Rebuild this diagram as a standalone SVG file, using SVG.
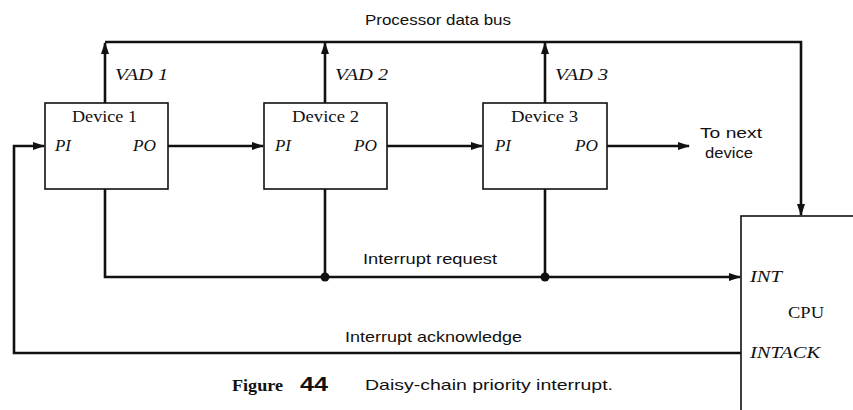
<svg xmlns="http://www.w3.org/2000/svg" width="853" height="410" viewBox="0 0 853 410">
  <style>
    .box { fill: #fff; stroke: #111; stroke-width: 1.6; }
    .wire { fill: none; stroke: #111; stroke-width: 2.6; }
    .sans { font-family: "Liberation Sans", Arial, sans-serif; font-size: 15px; fill: #111; }
    .serif { font-family: "Liberation Serif", "Times New Roman", serif; font-size: 16px; fill: #111; }
    .ital { font-family: "Liberation Serif", "Times New Roman", serif; font-size: 16px; font-style: italic; fill: #111; }
  </style>
  <defs>
    <marker id="arr" markerUnits="userSpaceOnUse" markerWidth="12" markerHeight="10" refX="11" refY="4" orient="auto">
      <path d="M0,0 L12,4 L0,8 z" fill="#111"/>
    </marker>
  </defs>
  <rect width="853" height="410" fill="#fff"/>

  <g id="connectors">
    <!-- processor data bus -->
    <path class="wire" d="M105,42 H801 V215" marker-end="url(#arr)"/>
    <line class="wire" x1="105" y1="103" x2="105" y2="43" marker-end="url(#arr)"/>
    <line class="wire" x1="325" y1="103" x2="325" y2="43" marker-end="url(#arr)"/>
    <line class="wire" x1="545" y1="103" x2="545" y2="43" marker-end="url(#arr)"/>
    <!-- priority chain -->
    <line class="wire" x1="168" y1="146" x2="263" y2="146" marker-end="url(#arr)"/>
    <line class="wire" x1="387" y1="146" x2="482" y2="146" marker-end="url(#arr)"/>
    <line class="wire" x1="607" y1="146" x2="689" y2="146" marker-end="url(#arr)"/>
    <!-- interrupt request -->
    <path class="wire" d="M105,189 V277 H740" marker-end="url(#arr)"/>
    <line class="wire" x1="325" y1="189" x2="325" y2="277"/>
    <line class="wire" x1="545" y1="189" x2="545" y2="277"/>
    <circle cx="325" cy="277" r="4.5" fill="#111"/>
    <circle cx="545" cy="277" r="4.5" fill="#111"/>
    <!-- interrupt acknowledge -->
    <path class="wire" d="M741,353 H14 V146 H44" marker-end="url(#arr)"/>
  </g>

  <g id="device1">
    <rect class="box" x="45" y="103" width="123" height="86"/>
    <text class="serif" x="72" y="122" textLength="65" lengthAdjust="spacingAndGlyphs">Device 1</text>
    <text class="ital" x="55" y="151" textLength="16" lengthAdjust="spacingAndGlyphs">PI</text>
    <text class="ital" x="133" y="151" textLength="23" lengthAdjust="spacingAndGlyphs">PO</text>
  </g>
  <g id="device2">
    <rect class="box" x="264" y="103" width="123" height="86"/>
    <text class="serif" x="292" y="122" textLength="67" lengthAdjust="spacingAndGlyphs">Device 2</text>
    <text class="ital" x="275" y="151" textLength="16" lengthAdjust="spacingAndGlyphs">PI</text>
    <text class="ital" x="354" y="151" textLength="23" lengthAdjust="spacingAndGlyphs">PO</text>
  </g>
  <g id="device3">
    <rect class="box" x="483" y="103" width="124" height="86"/>
    <text class="serif" x="511" y="122" textLength="67" lengthAdjust="spacingAndGlyphs">Device 3</text>
    <text class="ital" x="495" y="151" textLength="16" lengthAdjust="spacingAndGlyphs">PI</text>
    <text class="ital" x="575" y="151" textLength="23" lengthAdjust="spacingAndGlyphs">PO</text>
  </g>
  <g id="cpu">
    <rect class="box" x="741" y="216" width="140" height="220"/>
    <text class="ital" x="750" y="282" textLength="32" lengthAdjust="spacingAndGlyphs">INT</text>
    <text class="serif" x="788" y="318" textLength="36" lengthAdjust="spacingAndGlyphs">CPU</text>
    <text class="ital" x="750" y="358" textLength="70" lengthAdjust="spacingAndGlyphs">INTACK</text>
  </g>

  <g id="labels">
    <text class="sans" x="365" y="25" textLength="146" lengthAdjust="spacingAndGlyphs">Processor data bus</text>
    <text class="ital" x="115" y="80" textLength="53" lengthAdjust="spacingAndGlyphs">VAD 1</text>
    <text class="ital" x="335" y="80" textLength="53" lengthAdjust="spacingAndGlyphs">VAD 2</text>
    <text class="ital" x="555" y="80" textLength="53" lengthAdjust="spacingAndGlyphs">VAD 3</text>
    <text class="sans" x="700" y="138" textLength="62" lengthAdjust="spacingAndGlyphs">To next</text>
    <text class="sans" x="705" y="158" textLength="48" lengthAdjust="spacingAndGlyphs">device</text>
    <text class="sans" x="363" y="264" textLength="134" lengthAdjust="spacingAndGlyphs">Interrupt request</text>
    <text class="sans" x="345" y="342" textLength="177" lengthAdjust="spacingAndGlyphs">Interrupt acknowledge</text>
  </g>

  <g id="caption">
    <text x="232" y="391" font-family="Liberation Serif, serif" font-weight="bold" font-size="17" fill="#111" textLength="51" lengthAdjust="spacingAndGlyphs">Figure</text>
    <text x="300" y="391" font-family="Liberation Sans, sans-serif" font-weight="bold" font-size="20" fill="#111" textLength="28" lengthAdjust="spacingAndGlyphs">44</text>
    <text class="sans" x="365" y="390" textLength="248" lengthAdjust="spacingAndGlyphs">Daisy-chain priority interrupt.</text>
  </g>
</svg>
